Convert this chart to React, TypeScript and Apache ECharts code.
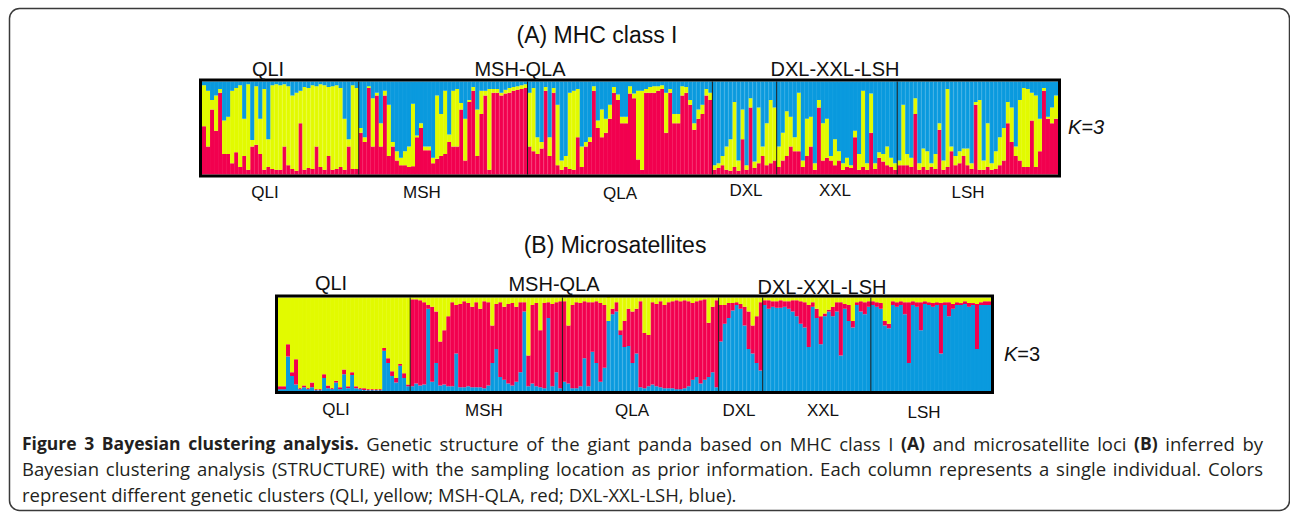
import React, { useEffect, useRef } from 'react';
import * as echarts from 'echarts';

// Sampling populations (one column = one individual)
const POPS = ['QLI', 'MSH', 'QLA', 'DXL', 'XXL', 'LSH'];

const YELLOW = '#e2fa00';
const RED = '#f2004f';
const BLUE = '#0a9ade';

// ---- Panel A: MHC class I (stack from bottom: red, yellow, blue) ----
// cumulative top of the red segment (%), per population
const A_RED_TOP: number[][] = [
  [52, 30, 70, 47, 88, 22, 22, 12, 24, 8, 20, 5, 30, 32, 22, 5, 8, 6, 5, 5, 30, 10, 6, 4, 55, 5, 7, 6, 30, 8, 5, 20, 5, 6, 8, 5, 30, 6, 6],
  [45, 35, 93, 30, 85, 30, 85, 20, 30, 15, 10, 10, 8, 9, 40, 50, 26, 26, 12, 17, 20, 22, 35, 30, 30, 70, 15, 78, 90, 20, 65, 85, 5, 88, 88, 85, 87, 88, 90, 91, 92, 93],
  [30, 25, 22, 28, 90, 20, 88, 10, 5, 8, 6, 5, 40, 8, 30, 35, 90, 50, 40, 45, 60, 88, 80, 55, 55, 87, 82, 16, 5, 88, 88, 88, 90, 92, 45, 88, 55, 55, 85, 88, 75, 48, 60, 65, 85, 80],
  [5, 7, 10, 5, 4, 8, 4, 38, 5, 72, 7, 12, 20, 10, 12, 15],
  [8, 15, 20, 30, 25, 25, 8, 20, 30, 5, 72, 15, 18, 15, 10, 15, 5, 8, 7, 40, 5, 8, 5, 45, 6, 18, 14, 10, 8, 5],
  [10, 10, 10, 8, 65, 5, 8, 5, 8, 6, 48, 5, 8, 25, 10, 12, 20, 10, 6, 75, 5, 5, 8, 5, 6, 10, 15, 55, 35, 20, 15, 8, 8, 58, 8, 25, 90, 60, 55, 60],
];
// cumulative top of the yellow segment (%), blue fills the rest
const A_YELLOW_TOP: number[][] = [
  [96, 90, 80, 85, 92, 58, 62, 90, 93, 96, 60, 97, 37, 95, 60, 92, 38, 96, 97, 96, 97, 95, 85, 88, 90, 94, 93, 96, 95, 97, 96, 94, 95, 96, 93, 60, 38, 96, 93],
  [50, 40, 95, 82, 88, 55, 90, 75, 35, 25, 18, 25, 30, 76, 42, 55, 30, 30, 18, 85, 65, 90, 43, 90, 92, 77, 60, 80, 94, 70, 90, 90, 92, 92, 92, 88, 91, 93, 94, 95, 96, 97],
  [88, 93, 40, 35, 94, 40, 93, 75, 15, 20, 88, 90, 92, 30, 35, 40, 95, 58, 70, 60, 75, 94, 86, 62, 62, 95, 87, 90, 90, 92, 94, 95, 95, 96, 88, 92, 65, 65, 95, 94, 80, 55, 70, 75, 92, 88],
  [10, 12, 20, 30, 38, 78, 15, 70, 10, 82, 14, 72, 30, 55, 80, 72],
  [30, 45, 68, 62, 40, 88, 15, 60, 62, 12, 80, 55, 60, 20, 38, 25, 12, 18, 10, 47, 22, 90, 12, 87, 12, 24, 22, 30, 18, 12],
  [15, 75, 22, 18, 82, 12, 28, 25, 12, 22, 55, 15, 92, 30, 20, 25, 28, 28, 12, 78, 80, 15, 55, 12, 25, 40, 50, 78, 72, 30, 80, 93, 92, 88, 85, 60, 93, 62, 72, 85],
];

// ---- Panel B: microsatellites (stack from bottom: blue, red, yellow) ----
// cumulative top of the blue segment (%)
const B_BLUE_TOP: number[][] = [
  [2, 2, 37, 16, 7, 2, 4, 2, 4, 1, 1, 14, 3, 2, 9, 2, 18, 3, 17, 3, 2, 1, 1, 1, 1, 1, 43, 30, 16, 9, 27, 14, 5],
  [5, 8, 6, 7, 88, 10, 30, 6, 7, 5, 5, 40, 4, 4, 5, 4, 4, 4, 3, 6, 30, 45, 15, 12, 8, 6, 10, 20, 85, 5, 8, 5, 4, 3, 78, 5, 20, 3],
  [10, 8, 3, 3, 5, 35, 5, 42, 30, 10, 25, 75, 82, 85, 60, 47, 48, 30, 40, 4, 3, 5, 7, 5, 4, 3, 3, 3, 2, 2, 3, 5, 12, 15, 8, 12, 15, 20, 4],
  [53, 72, 78, 86, 92, 88, 70, 45, 40, 30, 22],
  [92, 88, 90, 89, 89, 90, 88, 85, 80, 72, 68, 47, 90, 78, 50, 80, 85, 80, 85, 38, 88, 75, 68, 92, 85, 82, 90],
  [92, 90, 88, 70, 67, 92, 90, 92, 82, 30, 92, 90, 65, 93, 92, 90, 92, 40, 92, 80, 88, 92, 92, 93, 90, 92, 45, 92, 92, 92],
];
// cumulative top of the red segment (%), yellow fills the rest
const B_RED_TOP: number[][] = [
  [5, 5, 50, 20, 34, 3, 6, 3, 9, 2, 2, 18, 6, 3, 11, 4, 23, 5, 20, 5, 3, 3, 2, 2, 2, 2, 46, 35, 21, 14, 29, 19, 7],
  [98, 98, 97, 95, 92, 90, 85, 53, 65, 80, 95, 92, 93, 96, 94, 90, 95, 88, 96, 95, 70, 93, 95, 90, 93, 94, 90, 95, 95, 38, 92, 94, 65, 94, 95, 93, 95, 96],
  [96, 70, 92, 95, 94, 96, 95, 95, 96, 94, 92, 72, 88, 95, 65, 75, 88, 85, 88, 96, 62, 60, 95, 93, 96, 92, 95, 96, 97, 96, 97, 96, 94, 96, 97, 98, 73, 90, 97],
  [92, 92, 94, 94, 95, 93, 90, 85, 70, 80, 95],
  [97, 97, 96, 96, 97, 96, 96, 97, 97, 96, 95, 92, 95, 88, 80, 83, 87, 90, 95, 95, 93, 92, 75, 95, 96, 95, 96],
  [96, 95, 94, 75, 72, 96, 95, 96, 95, 95, 96, 95, 95, 96, 95, 94, 95, 94, 95, 95, 93, 95, 94, 96, 94, 94, 93, 95, 96, 96],
];

const A_TOP_LABELS = ['QLI', 'MSH-QLA', 'DXL-XXL-LSH'];
const B_TOP_LABELS = ['QLI', 'MSH-QLA', 'DXL-XXL-LSH'];

// caption: [text, bold]
const CAPTION_1: [string, boolean][] = [
  ['Figure 3 Bayesian clustering analysis.', true],
  ['Genetic structure of the giant panda based on MHC class I', false],
  ['(A)', true],
  ['and microsatellite loci', false],
  ['(B)', true],
  ['inferred by', false],
];
const CAPTION_2: [string, boolean][] = [
  ['Bayesian clustering analysis (STRUCTURE) with the sampling location as prior information. Each column represents a single individual. Colors', false],
];
const CAPTION_3: [string, boolean][] = [
  ['represent different genetic clusters (QLI, yellow; MSH-QLA, red; DXL-XXL-LSH, blue).', false],
];

const SANS = '"Liberation Sans", Arial, sans-serif';
const CAP_FAMILY = '"Open Sans", "Noto Sans", sans-serif';
const CAP_BOLD = `bold 17.5px ${CAP_FAMILY}`;
const CAP_NORMAL = `18.5px ${CAP_FAMILY}`;

function categories(groups: number[][]) {
  const out: string[] = [];
  groups.forEach((g, gi) => g.forEach((_, k) => out.push(POPS[gi] + '-' + (k + 1))));
  return out;
}
const flat = (g: number[][]) => g.reduce((a, b) => a.concat(b), [] as number[]);

export default function App() {
  const ref = useRef<HTMLDivElement>(null);
  useEffect(() => {
    if (!ref.current) return;
    const chart = echarts.init(ref.current, null, { renderer: 'svg' });

    const catA = categories(A_RED_TOP);
    const catB = categories(B_BLUE_TOP);
    const aRed = flat(A_RED_TOP);
    const aYT = flat(A_YELLOW_TOP);
    const bBlue = flat(B_BLUE_TOP);
    const bRT = flat(B_RED_TOP);

    const barStyle = (c: string) => ({ color: c, borderColor: c, borderWidth: 1.2 });
    const mk = (name: string, stack: string, idx: number, data: number[], c: string) => ({
      name, type: 'bar', stack, xAxisIndex: idx, yAxisIndex: idx, data,
      barCategoryGap: '0%', itemStyle: barStyle(c), silent: true,
    });

    const gridA = { left: 202, top: 81.5, width: 856, height: 93 };
    const gridB = { left: 278, top: 297.5, width: 713, height: 93.5 };

    chart.setOption({
      animation: false,
      grid: [gridA, gridB],
      xAxis: [
        { type: 'category', gridIndex: 0, data: catA, show: false },
        { type: 'category', gridIndex: 1, data: catB, show: false },
      ],
      yAxis: [
        { type: 'value', gridIndex: 0, min: 0, max: 100, show: false },
        { type: 'value', gridIndex: 1, min: 0, max: 100, show: false },
      ],
      series: [
        mk('A red', 'A', 0, aRed, RED),
        mk('A yellow', 'A', 0, aYT.map((v, i) => v - aRed[i]), YELLOW),
        mk('A blue', 'A', 0, aYT.map((v) => 100 - v), BLUE),
        mk('B blue', 'B', 1, bBlue, BLUE),
        mk('B red', 'B', 1, bRT.map((v, i) => v - bBlue[i]), RED),
        mk('B yellow', 'B', 1, bRT.map((v) => 100 - v), YELLOW),
      ],
    });

    // population dividers from the axis scale
    const dividers = (axis: number, groups: number[][], cats: string[], g: any) => {
      const c0 = chart.convertToPixel({ xAxisIndex: axis }, cats[0]) as number;
      const c1 = chart.convertToPixel({ xAxisIndex: axis }, cats[1]) as number;
      const band = c1 - c0;
      const els: any[] = [];
      let k = 0;
      groups.forEach((grp, gi) => {
        if (gi > 0) {
          const x = (chart.convertToPixel({ xAxisIndex: axis }, cats[k]) as number) - band / 2;
          els.push({ type: 'line', shape: { x1: x, y1: g.top, x2: x, y2: g.top + g.height }, style: { stroke: '#1a1a1a', lineWidth: 1 }, z: 10 });
        }
        k += grp.length;
      });
      return els;
    };

    const txt = (text: string, x: number, y: number, size: number, extra: any = {}) => ({
      type: 'text', x, y, z: 20,
      style: { text, fill: '#111', font: `${size}px ${SANS}`, align: 'center', verticalAlign: 'middle', ...extra },
    });

    const frameRect = (g: any) => ({
      type: 'rect', z: 11,
      shape: { x: g.left - 1.5, y: g.top - 1.5, width: g.width + 3, height: g.height + 3 },
      style: { fill: 'none', stroke: '#000', lineWidth: 3 },
    });

    // caption lines, justified word by word like the printed figure
    const ctx = document.createElement('canvas').getContext('2d')!;
    const measure = (t: string, font: string) => { ctx.font = font; return ctx.measureText(t).width; };
    const captionLine = (segs: [string, boolean][], y: number, justifyTo: number | null) => {
      const words: { t: string; f: string; w: number }[] = [];
      segs.forEach(([s, b]) => s.split(' ').forEach((t) => {
        const f = b ? CAP_BOLD : CAP_NORMAL;
        words.push({ t, f, w: measure(t, f) });
      }));
      const total = words.reduce((a, w) => a + w.w, 0);
      const gap = justifyTo != null ? (justifyTo - 22 - total) / (words.length - 1) : measure(' ', CAP_NORMAL);
      let x = 22;
      return words.map((w) => {
        const el = { type: 'text', x, y, z: 20, style: { text: w.t, font: w.f, fill: '#231f20', align: 'left', verticalAlign: 'middle' } };
        x += w.w + gap;
        return el;
      });
    };

    const graphic: any[] = [
      { type: 'rect', z: 1, shape: { x: 9.5, y: 8.5, width: 1280, height: 502, r: 10 }, style: { fill: 'none', stroke: '#3a3a3a', lineWidth: 1.5 } },
      ...dividers(0, A_RED_TOP, catA, gridA),
      ...dividers(1, B_BLUE_TOP, catB, gridB),
      frameRect(gridA),
      frameRect(gridB),
      txt('(A) MHC class I', 597, 35, 23),
      txt('(B) Microsatellites', 615, 245, 23),
      txt(A_TOP_LABELS[0], 268, 69, 20),
      txt(A_TOP_LABELS[1], 520, 69, 20),
      txt(A_TOP_LABELS[2], 835, 69, 20),
      txt(POPS[0], 265, 192, 17),
      txt(POPS[1], 422, 192, 17),
      txt(POPS[2], 620, 193, 17),
      txt(POPS[3], 746, 190, 17),
      txt(POPS[4], 835, 190, 17),
      txt(POPS[5], 968, 192, 17),
      txt(B_TOP_LABELS[0], 331, 283, 20),
      txt(B_TOP_LABELS[1], 554, 284, 20),
      txt(B_TOP_LABELS[2], 822, 286.5, 20),
      txt(POPS[0], 336, 409, 17),
      txt(POPS[1], 484, 410, 17),
      txt(POPS[2], 632, 410, 17),
      txt(POPS[3], 739, 410, 17),
      txt(POPS[4], 823, 410, 17),
      txt(POPS[5], 924, 412, 17),
      txt('K=3', 1068, 127, 20, { align: 'left', font: `italic 20px ${SANS}` }),
      {
        type: 'text', x: 1004, y: 354, z: 20,
        style: {
          text: '{i|K}{n|=3}', align: 'left', verticalAlign: 'middle',
          rich: { i: { fontStyle: 'italic', fontSize: 20, fontFamily: SANS, fill: '#111' }, n: { fontSize: 20, fontFamily: SANS, fill: '#111' } },
        },
      },
      ...captionLine(CAPTION_1, 443, 1263),
      ...captionLine(CAPTION_2, 468.5, 1263),
      ...captionLine(CAPTION_3, 494, null),
    ];
    chart.setOption({ graphic });

    return () => chart.dispose();
  }, []);
  return <div ref={ref} style={{ position: 'absolute', left: 0, top: 0, width: 1290, height: 516, background: '#fff' }} />;
}
